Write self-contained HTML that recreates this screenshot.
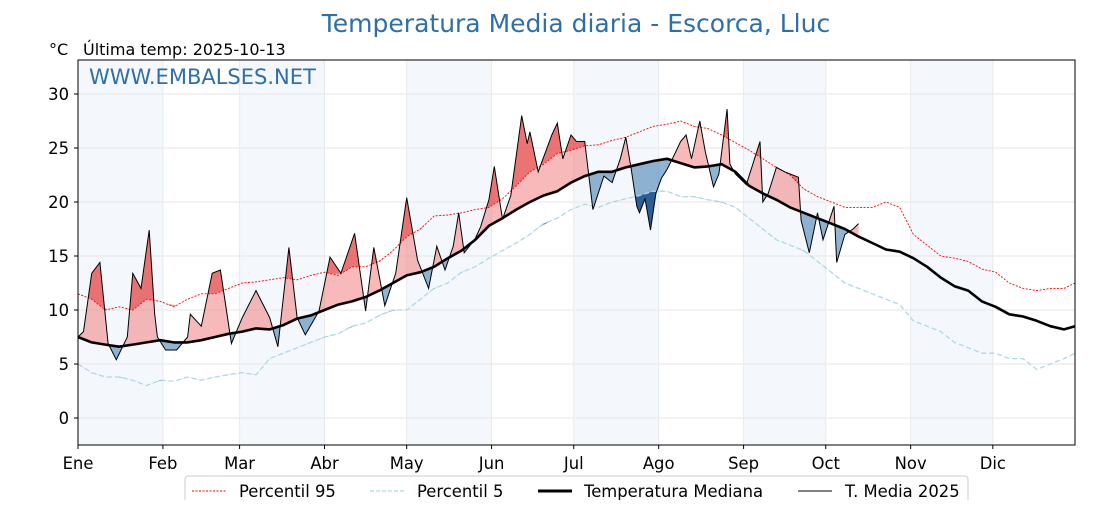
<!DOCTYPE html>
<html><head><meta charset="utf-8"><style>
body{margin:0;background:#fff;width:1120px;height:500px;overflow:hidden}
svg text{font-family:"DejaVu Sans","Liberation Sans",sans-serif}
</style></head><body>
<svg id="chart" width="1120" height="500" xmlns="http://www.w3.org/2000/svg">
<text x="576" y="32" text-anchor="middle" font-size="25" fill="#2f6fa7">Temperatura Media diaria - Escorca, Lluc</text>
<text x="49" y="55" font-size="16" fill="#000">°C</text>
<text x="83" y="55" font-size="16" fill="#000">Última temp: 2025-10-13</text>
<g id="plot"></g>
<rect x="78" y="60" width="997" height="385" fill="none" stroke="#000" stroke-width="1"/>
<text x="89" y="84" font-size="21" fill="#2f6fa7">WWW.EMBALSES.NET</text>
<g id="axes"></g>
<g>
<rect x="185" y="476" width="783" height="30" rx="3" fill="#fff" stroke="#ccc"/>
<line x1="192" y1="491" x2="226" y2="491" stroke="red" stroke-width="1" stroke-dasharray="2,1.5"/>
<text x="239" y="497" font-size="16.4">Percentil 95</text>
<line x1="370" y1="491" x2="404" y2="491" stroke="#add8e6" stroke-width="1.2" stroke-dasharray="4,2"/>
<text x="417" y="497" font-size="16.4">Percentil 5</text>
<line x1="538" y1="491" x2="572" y2="491" stroke="#000" stroke-width="3"/>
<text x="584" y="497" font-size="16.4">Temperatura Mediana</text>
<line x1="798" y1="491" x2="832" y2="491" stroke="#000" stroke-width="1"/>
<text x="845" y="497" font-size="16.4">T. Media 2025</text>
</g>
</svg>
<script>
const pctDays=[0,5,10,15,20,25,30,35,40,45,50,55,60,65,70,75,80,85,90,95,100,105,110,115,120,125,130,135,140,145,150,155,160,165,170,175,180,185,190,195,200,205,210,215,220,225,230,235,240,245,250,255,260,265,270,275,280,285,290,295,300,305,310,315,320,325,330,335,340,345,350,355,360,364];
const median=[7.5,7,6.8,6.6,6.8,7,7.2,7,7,7.2,7.5,7.8,8,8.3,8.2,8.6,9.2,9.5,10,10.5,10.8,11.2,11.8,12.5,13.2,13.5,14,14.8,15.5,16.5,17.8,18.5,19.3,20,20.6,21,21.8,22.4,22.8,22.8,23.2,23.5,23.8,24,23.6,23.2,23.3,23.5,22.8,21.5,20.8,20.2,19.5,19,18.5,18,17.5,16.8,16.2,15.6,15.4,14.8,14,13,12.2,11.8,10.8,10.3,9.6,9.4,9,8.5,8.2,8.5];
const p95=[11.5,11,10,10.3,10,11,10.8,10.3,11,11.5,11.5,12,12.5,12.6,12.8,13,12.8,13.2,13.5,13.2,14,14,14.5,15.5,16.8,17.5,18.7,18.8,19,19.3,19.5,20.3,21.5,22.8,23.5,24.5,24.8,25.2,25.3,25.7,26,26.5,27,27.2,27.5,27,26.8,26.2,25.5,24.8,24,23.2,22.5,21.2,20.5,20,19.5,19.5,19.5,20,19.5,17,16,15,14.8,14.5,13.8,13.5,12.5,12,11.8,12,12,12.5];
const p5=[5,4.2,3.8,3.8,3.5,3,3.5,3.4,3.8,3.5,3.8,4,4.2,4,5.5,6,6.5,7,7.5,7.8,8.5,8.8,9.5,10,10,11,12,12.5,13.5,14,14.8,15.5,16.2,17,18,18.5,19.3,19.8,19.5,20,20.3,20.6,21,21,20.5,20.5,20.2,20,19.5,18.5,17.5,16.5,16,15.5,14.5,13.5,12.5,12,11.5,11,10.5,9,8.5,8,7,6.5,6,6,5.5,5.5,4.5,5,5.5,6];
const days2025=[0,2,5,8,11,14,18,20,23,26,28,29,32,36,40,41,45,49,52,56,60,65,70,73,77,80,83,88,92,96,101,105,108,112,116,120,124,128,131,134,137,139,141,145,147,150,152,155,158,162,164,165,168,173,175,177,180,182,185,188,192,195,198,200,202,204,205,207,209,211,213,215,217,220,222,224,227,229,232,234,237,238,240,244,249,250,252,255,258,263,264,267,270,272,276,277,280,283,285];
const t2025=[7.5,8,13.4,14.4,6.9,5.4,7.5,13.4,12,17.4,9.6,7.5,6.3,6.3,7.5,9.6,8.5,13.4,13.7,6.9,9.3,11.8,9.3,6.6,15.8,9.3,7.7,9.9,14.9,13.4,17.1,9.9,15.8,10.4,13.4,20.4,14.6,12,15.9,13.7,15.9,19,15.3,16.6,17.7,20.2,23.3,18.4,20.6,28,25.4,26.5,22.8,26.2,27.3,24,26.2,25.6,25.6,19.3,22.4,21.8,24,26,23,19.6,19,20.3,17.4,20.8,22.2,23,24,25.6,26.2,24,27.5,24.7,21.4,22.6,28.6,23.5,22.6,21.6,25.6,20,20.8,23.2,22.8,22.3,18.3,15.3,19,16.5,19.6,14.4,17,17.5,18];
const yTicks=[0,5,10,15,20,25,30];
const months=["Ene","Feb","Mar","Abr","May","Jun","Jul","Ago","Sep","Oct","Nov","Dic"];
const monthStart=[0,31,59,90,120,151,181,212,243,273,304,334];

const X0=78,X1=1075,Y0=60,Y1=445,DMAX=364,TMIN=-2.5,TMAX=(418-60)/10.8;
const xs=d=>X0+(X1-X0)*d/DMAX;
const ys=t=>Y1-(Y1-Y0)*(t-TMIN)/(TMAX-TMIN);
const NS="http://www.w3.org/2000/svg";
const plot=document.getElementById('plot'),axes=document.getElementById('axes'),svg=document.getElementById('chart');
function mk(tag,attrs,parent){const e=document.createElementNS(NS,tag);for(const k in attrs)e.setAttribute(k,attrs[k]);parent.appendChild(e);return e;}
function valAt(days,vals,d){for(let i=0;i<days.length-1;i++){if(d>=days[i]&&d<=days[i+1]){const f=(d-days[i])/(days[i+1]-days[i]);return vals[i]+f*(vals[i+1]-vals[i]);}}return vals[vals.length-1];}
const pts=(days,vals)=>days.map((d,i)=>xs(d).toFixed(1)+','+ys(vals[i]).toFixed(1)).join(' ');

for(let m=0;m<12;m+=2){const a=monthStart[m],b=m+1<12?monthStart[m+1]:DMAX;
const r=mk('rect',{x:xs(a),y:Y0,width:xs(b)-xs(a),height:Y1-Y0,fill:'#f4f8fc'},plot);

}
yTicks.forEach(t=>{const l=mk('line',{x1:X0,x2:X1,y1:ys(t),y2:ys(t),stroke:'#e6e6e6','stroke-width':1},plot);

const tk=mk('line',{x1:X0-4,x2:X0,y1:ys(t),y2:ys(t),stroke:'#000'},axes);

const tx=mk('text',{x:X0-9,y:ys(t)+6,'text-anchor':'end','font-size':16.4},axes);tx.textContent=t;
});
monthStart.forEach((d,i)=>{const l=mk('line',{x1:xs(d),x2:xs(d),y1:Y0,y2:Y1,stroke:'#e6eaee','stroke-width':1},plot);

const tk=mk('line',{x1:xs(d),x2:xs(d),y1:Y1,y2:Y1+4,stroke:'#000'},axes);

const tx=mk('text',{x:xs(d),y:469,'text-anchor':'middle','font-size':16.4},axes);tx.textContent=months[i];
});

const medOn=days2025.map(d=>valAt(pctDays,median,d));
const p95On=days2025.map(d=>valAt(pctDays,p95,d));
const p5On=days2025.map(d=>valAt(pctDays,p5,d));
const defs=mk('defs',{},svg);
function clip(id,days,vals,up){const c=mk('clipPath',{id:id},defs);
const yEdge=up?Y0-10:Y1+10;
mk('polygon',{points:xs(days[0])+','+yEdge+' '+pts(days,vals)+' '+xs(days[days.length-1])+','+yEdge},c);}
clip('aboveMed',pctDays,median,true);clip('belowMed',pctDays,median,false);
clip('aboveP95',pctDays,p95,true);clip('belowP5',pctDays,p5,false);
function band(vA,vB,fill,clipId,name){const rev=days2025.slice().reverse();
const p=mk('polygon',{points:pts(days2025,vA)+' '+pts(rev,vB.slice().reverse()),fill:fill,'clip-path':'url(#'+clipId+')'},plot);
}
band(t2025,medOn,'rgba(240,128,128,0.55)','aboveMed','fill-above-median');
band(t2025,medOn,'rgba(70,130,180,0.6)','belowMed','fill-below-median');
band(t2025,p95On,'rgba(220,30,30,0.45)','aboveP95','fill-above-p95');
band(t2025,p5On,'rgba(10,70,130,0.75)','belowP5','fill-below-p5');

let l;
l=mk('polyline',{points:pts(pctDays,p95),fill:'none',stroke:'red','stroke-width':0.9,'stroke-dasharray':'2,1.5'},plot);

l=mk('polyline',{points:pts(pctDays,p5),fill:'none',stroke:'#add8e6','stroke-width':1.3,'stroke-dasharray':'5,3'},plot);

l=mk('polyline',{points:pts(pctDays,median),fill:'none',stroke:'#000','stroke-width':2.6,'stroke-linejoin':'round'},plot);

l=mk('polyline',{points:pts(days2025,t2025),fill:'none',stroke:'#000','stroke-width':1},plot);

</script>
</body></html>
